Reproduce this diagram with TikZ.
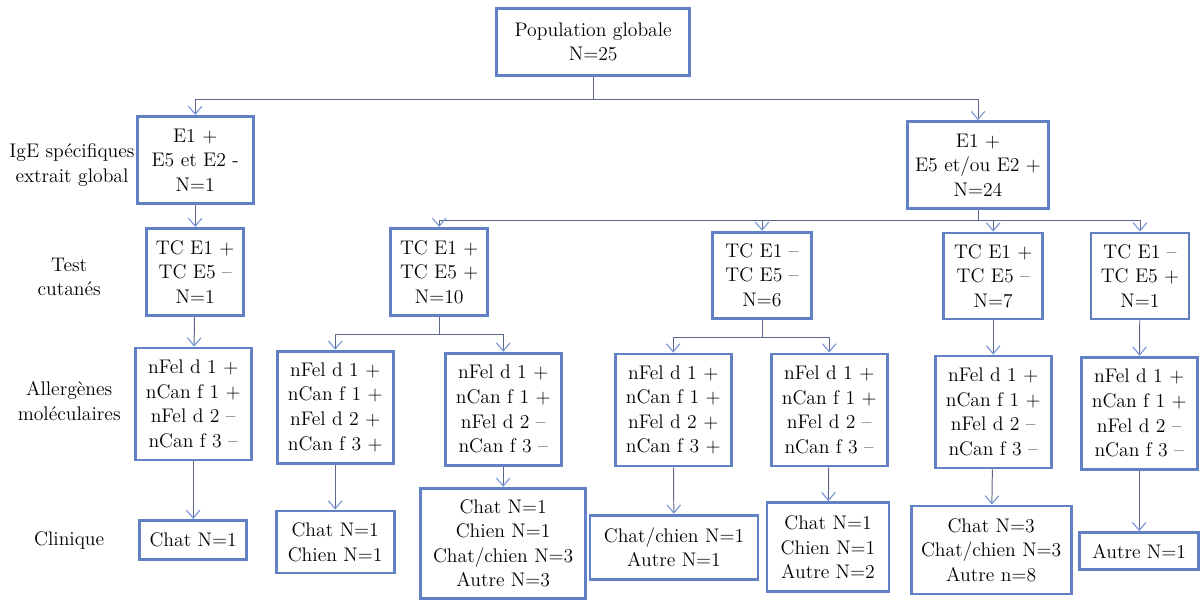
\documentclass[tikz,border=0pt]{standalone}
\usetikzlibrary{arrows.meta}
\definecolor{boxblue}{RGB}{98,128,196}
\definecolor{linecol}{RGB}{92,102,140}
\definecolor{tipblue}{RGB}{120,150,215}

\begin{document}
\begin{tikzpicture}[
    font=\rmfamily\fontsize{14}{17.5}\selectfont,
    bx/.style={draw=boxblue, line width=2pt, fill=white, align=center, inner sep=2pt},
    lbl/.style={align=center},
    conn/.style={draw=linecol, line width=0.7pt, -{Straight Barb[length=2mm,width=3.4mm,line width=0.8pt,color=tipblue]}}
  ]
  \useasboundingbox (0,0) rectangle (30,-15);

  % top
  \node[bx, minimum width=4.83cm, minimum height=1.68cm] (pop) at (14.83,-1.05) {Population globale\\N=25};

  % IgE row
  \node[bx, minimum width=2.9cm, minimum height=2.18cm] (ige1) at (4.88,-4.0) {E1 +\\E5 et E2 -\\N=1};
  \node[bx, minimum width=3.53cm, minimum height=2.18cm] (ige2) at (24.45,-4.13) {E1 +\\E5 et/ou E2 +\\N=24};

  % tests cutanes
  \node[bx, minimum width=2.43cm, minimum height=2.18cm] (tc1) at (4.88,-6.8) {TC E1 +\\TC E5 --\\N=1};
  \node[bx, minimum width=2.43cm, minimum height=2.18cm] (tc2) at (10.98,-6.8) {TC E1 +\\TC E5 +\\N=10};
  \node[bx, minimum width=2.48cm, minimum height=2.15cm] (tc3) at (19.05,-6.88) {TC E1 --\\TC E5 --\\N=6};
  \node[bx, minimum width=2.48cm, minimum height=2.15cm] (tc4) at (24.83,-6.9) {TC E1 +\\TC E5 --\\N=7};
  \node[bx, minimum width=2.45cm, minimum height=2.15cm] (tc5) at (28.5,-6.9) {TC E1 --\\TC E5 +\\N=1};

  % allergenes moleculaires
  \foreach \nm/\x/\y/\sa/\sb/\sc/\sd in {
      m1/4.83/-10.1/+/+/--/--,
      m2/8.38/-10.18/+/+/+/+,
      m3/12.58/-10.23/+/+/--/--,
      m4/16.83/-10.25/+/+/+/+,
      m5/20.73/-10.25/+/+/--/--,
      m6/24.83/-10.3/+/+/--/--,
      m7/28.48/-10.33/+/+/--/--}
    \node[bx, minimum width=2.9cm, minimum height=2.8cm] (\nm) at (\x,\y)
      {nFel d 1 \sa\\nCan f 1 \sb\\nFel d 2 \sc\\nCan f 3 \sd};

  % clinique
  \node[bx, minimum width=2.68cm, minimum height=0.98cm] (c1) at (4.83,-13.5) {Chat N=1};
  \node[bx, minimum width=2.95cm, minimum height=1.55cm] (c2) at (8.38,-13.55) {Chat N=1\\Chien N=1};
  \node[bx, minimum width=4.13cm, minimum height=2.75cm] (c3) at (12.58,-13.58) {Chat N=1\\Chien N=1\\Chat/chien N=3\\Autre N=3};
  \node[bx, minimum width=4.2cm, minimum height=1.6cm] (c4) at (16.85,-13.68) {Chat/chien N=1\\Autre N=1};
  \node[bx, minimum width=3.05cm, minimum height=2.23cm] (c5) at (20.7,-13.68) {Chat N=1\\Chien N=1\\Autre N=2};
  \node[bx, minimum width=4.0cm, minimum height=2.2cm] (c6) at (24.78,-13.75) {Chat N=3\\Chat/chien N=3\\Autre n=8};
  \node[bx, minimum width=2.98cm, minimum height=0.93cm] (c7) at (28.48,-13.78) {Autre N=1};

  % row labels
  \node[lbl] (lige) at (1.8,-4.12) {IgE spécifiques\\extrait global};
  \node[lbl] (ltc) at (1.73,-6.92) {Test\\cutanés};
  \node[lbl] (lmol) at (1.73,-10.02) {Allergènes\\moléculaires};
  \node[lbl] (lcli) at (1.73,-13.5) {Clinique};

  % connectors
  \draw[conn] (pop.south) -- ++(0,-0.55) coordinate (jpop) -| (ige1.north);
  \draw[conn] (jpop) -| (ige2.north);
  \draw[conn] (ige1) -- (tc1);
  \draw[conn] (ige2.south) -- ++(0,-0.25) coordinate (jige) -| (tc2.north);
  \foreach \t in {tc3,tc4,tc5}
    \draw[conn] (jige) -| (\t.north);
  \draw[conn] (tc2.south) -- ++(0,-0.43) coordinate (jtc2) -| (m2.north);
  \draw[conn] (jtc2) -| (m3.north);
  \draw[conn] (tc3.south) -- ++(0,-0.45) coordinate (jtc3) -| (m4.north);
  \draw[conn] (jtc3) -| (m5.north);
  \draw[conn] (tc1) -- (m1);
  \draw[conn] (tc4) -- (m6);
  \draw[conn] (tc5) -- (m7);
  \foreach \i in {1,...,7}
    \draw[conn] (m\i) -- (c\i);
\end{tikzpicture}
\end{document}
